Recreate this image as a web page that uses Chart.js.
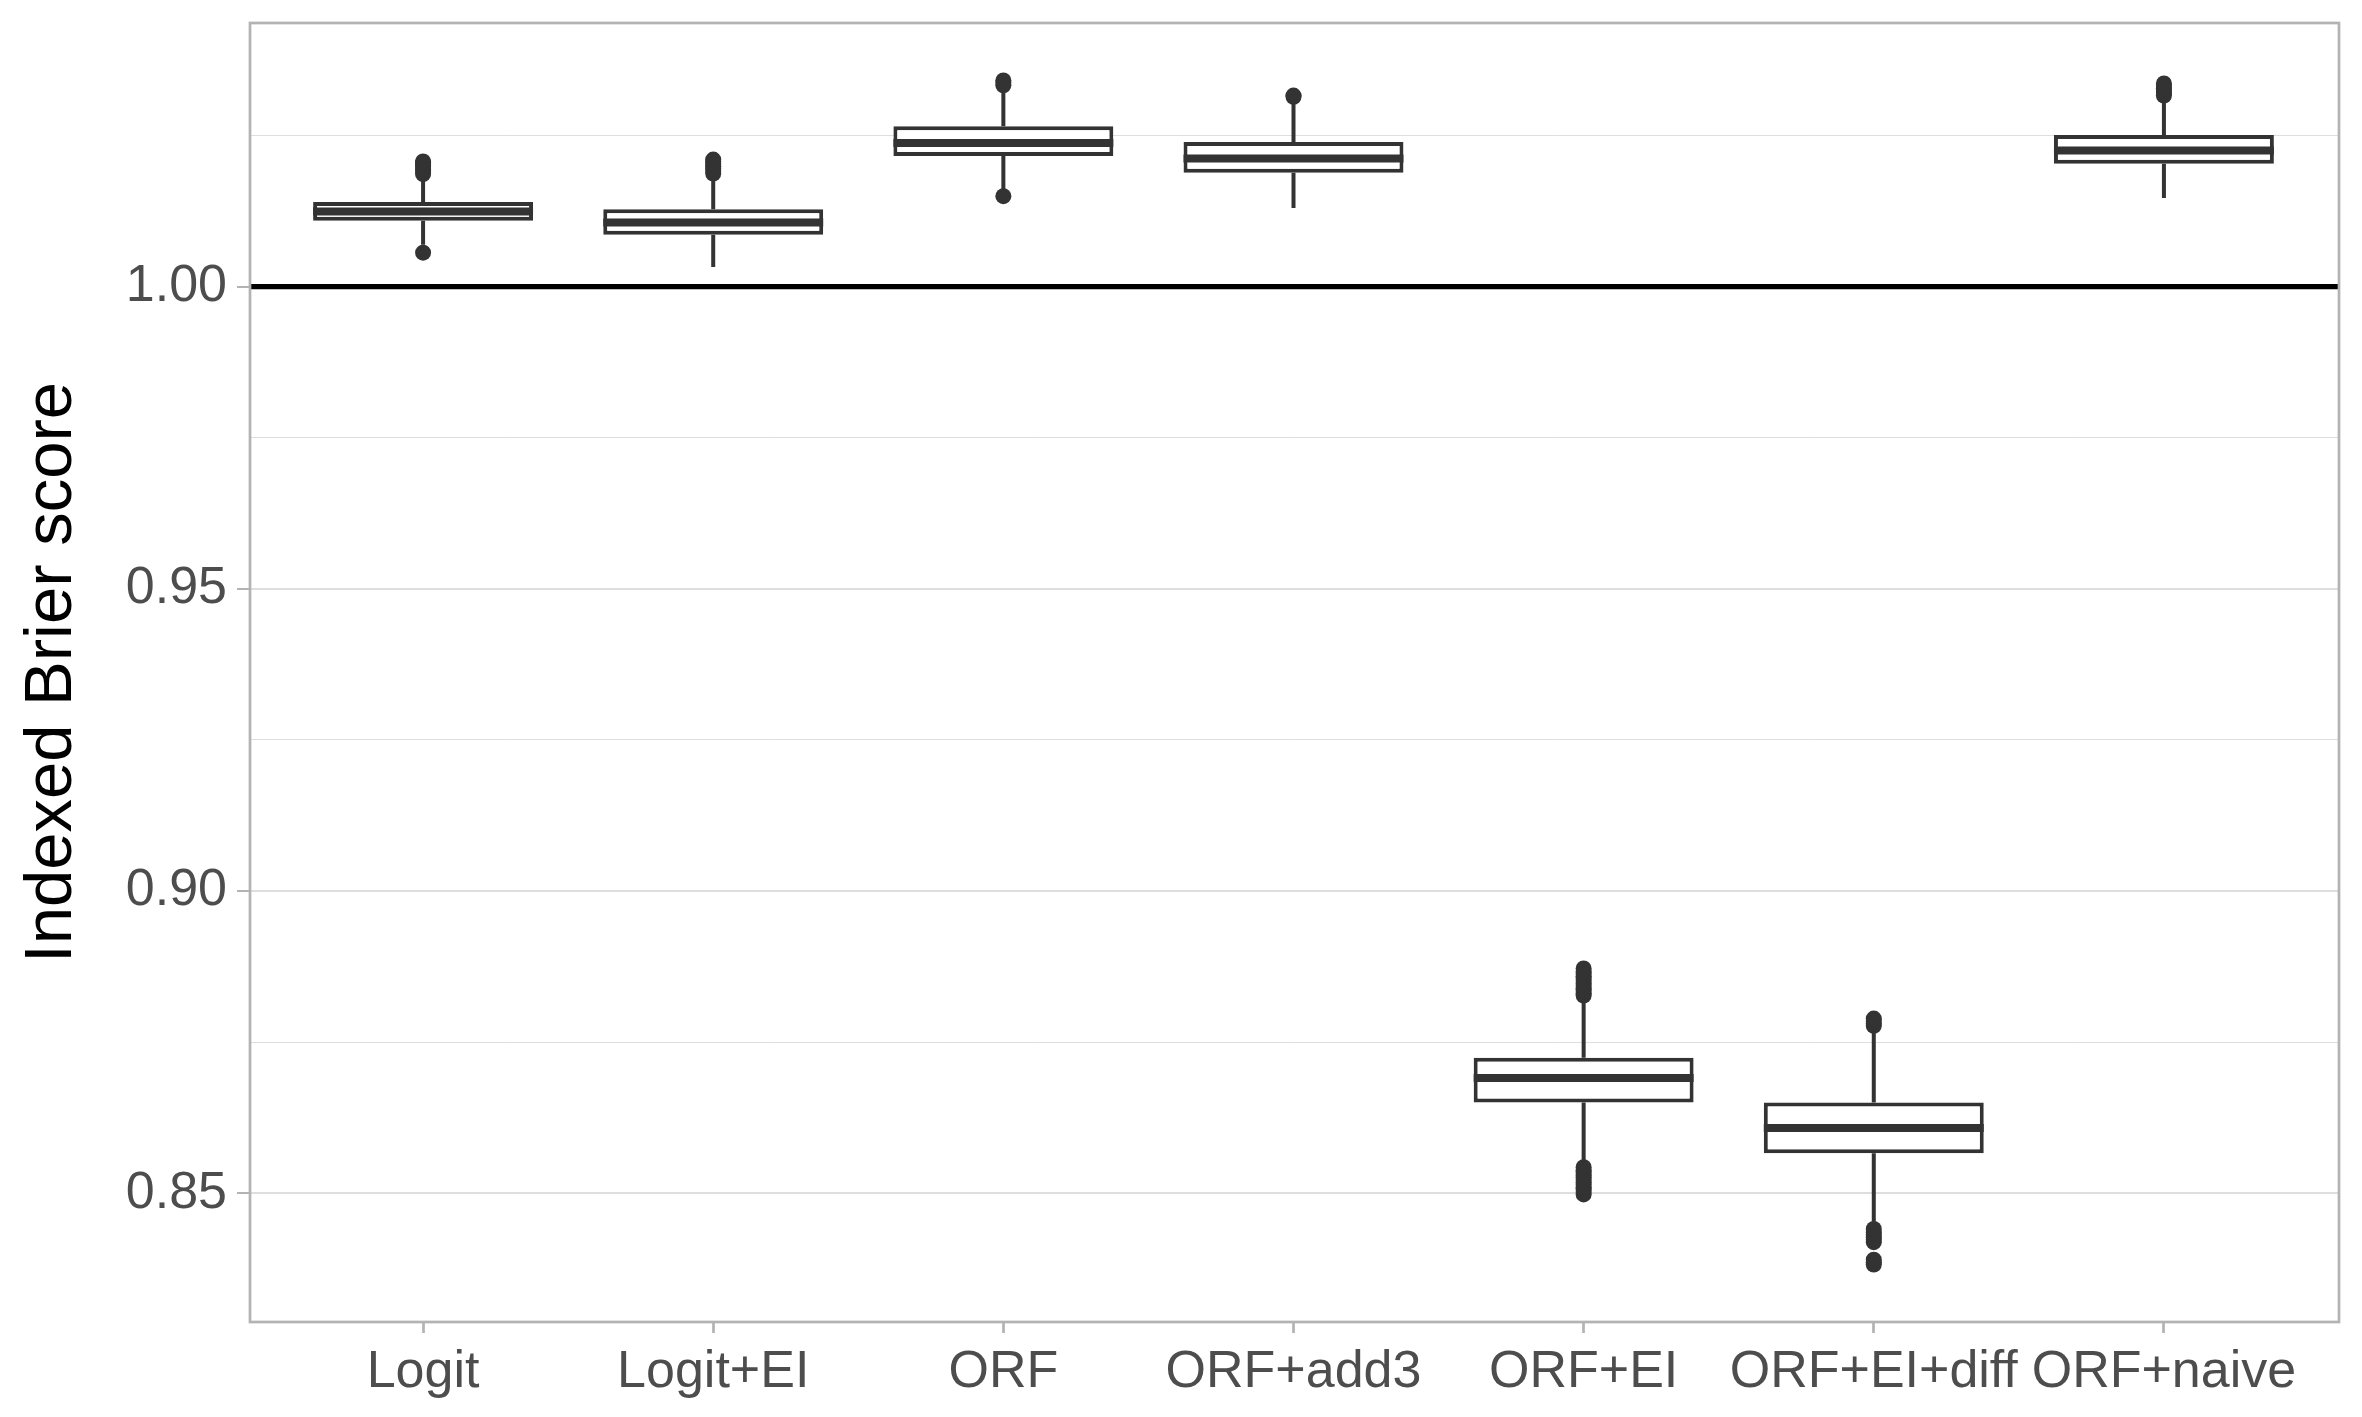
<!DOCTYPE html>
<html>
<head>
<meta charset="utf-8">
<style>
  html, body { margin: 0; padding: 0; background: #ffffff; }
  #wrap { width: 2362px; height: 1417px; }
  canvas { display: block; }
</style>
<script src="https://cdn.jsdelivr.net/npm/chart.js@4.4.0/dist/chart.umd.min.js"></script>
</head>
<body>
<div id="wrap"><canvas id="c" width="2362" height="1417"></canvas></div>
<script>
// ---- data ----
const categories = ['Logit', 'Logit+EI', 'ORF', 'ORF+add3', 'ORF+EI', 'ORF+EI+diff', 'ORF+naive'];
const whiskerLow  = [1.0069, 1.00324, 1.0161, 1.0130, 0.8552, 0.8453, 1.01465];
const q1          = [1.0109, 1.00857, 1.0216, 1.01884, 0.86502, 0.8566, 1.02033];
const medians     = [1.0124, 1.01061, 1.02374, 1.0212, 0.86906, 0.86079, 1.02252];
const q3          = [1.0140, 1.01278, 1.02651, 1.02392, 0.87242, 0.86502, 1.02506];
const whiskerHigh = [1.0180, 1.0182, 1.0325, 1.0309, 0.8820, 0.8767, 1.0307];
const outliersLogit    = [1.0056, 1.0186, 1.0190, 1.0194, 1.0198, 1.0202, 1.0205, 1.0207];
const outliersLogitEI  = [1.0187, 1.0191, 1.0195, 1.0199, 1.0203, 1.0207, 1.0210];
const outliersORF      = [1.01495, 1.0333, 1.0337, 1.0341];
const outliersORFadd3  = [1.0314, 1.0316];
const outliersORFEI    = [0.8498, 0.8502, 0.8506, 0.8510, 0.8514, 0.8518, 0.8522, 0.8526, 0.8530, 0.8534, 0.8538, 0.8543,
                          0.8827, 0.8831, 0.8835, 0.8839, 0.8843, 0.8847, 0.8851, 0.8855, 0.8859, 0.8863, 0.8867, 0.8872];
const outliersORFEIdiff = [0.8382, 0.8386, 0.8390, 0.8419, 0.8423, 0.8427, 0.8431, 0.8435, 0.8441,
                           0.8777, 0.8781, 0.8785, 0.8789];
const outliersORFnaive = [1.0316, 1.0320, 1.0324, 1.0328, 1.0332, 1.0336];
const outliers = [outliersLogit, outliersLogitEI, outliersORF, outliersORFadd3, outliersORFEI, outliersORFEIdiff, outliersORFnaive];
const referenceValue = 1.0;
const yTickValues = [0.85, 0.875, 0.90, 0.925, 0.95, 0.975, 1.00, 1.025];
const yTickLabels = ['0.85', '', '0.90', '', '0.95', '', '1.00', ''];
const yAxisTitle = 'Indexed Brier score';

// ---- derived datasets ----
const BOX_HALF = 0.379;
const idx = categories.map((_, i) => i);
const boxData = idx.map(i => ({ x: i, y: [q1[i], q3[i]] }));
const medianData = [];
idx.forEach(i => {
  medianData.push({ x: i - BOX_HALF, y: medians[i] });
  medianData.push({ x: i + BOX_HALF, y: medians[i] });
  medianData.push({ x: i, y: null });
});
const whiskerData = [];
idx.forEach(i => {
  whiskerData.push({ x: i, y: q3[i] });
  whiskerData.push({ x: i, y: whiskerHigh[i] });
  whiskerData.push({ x: i, y: null });
  whiskerData.push({ x: i, y: q1[i] });
  whiskerData.push({ x: i, y: whiskerLow[i] });
  whiskerData.push({ x: i, y: null });
});
const outlierData = [];
idx.forEach(i => outliers[i].forEach(v => outlierData.push({ x: i, y: v })));

const FONT = '"Liberation Sans", Arial, Helvetica, sans-serif';

const panelBorder = {
  id: 'panelBorder',
  afterDatasetsDraw(chart) {
    const { ctx, chartArea: a } = chart;
    ctx.save();
    ctx.strokeStyle = '#b3b3b3';
    ctx.lineWidth = 2.7;
    ctx.strokeRect(a.left + 1, a.top, a.right - a.left, a.bottom - a.top);
    ctx.restore();
  }
};

new Chart(document.getElementById('c'), {
  type: 'bar',
  data: {
    datasets: [
      {
        type: 'line', label: 'median', data: medianData, order: 0,
        borderColor: '#333333', borderWidth: 8, pointRadius: 0, spanGaps: false, borderCapStyle: 'butt'
      },
      {
        type: 'bar', label: 'box', data: boxData, order: 1,
        backgroundColor: '#ffffff', borderColor: '#333333', borderWidth: 4, borderSkipped: false,
        categoryPercentage: 1.0, barPercentage: 0.758
      },
      {
        type: 'line', label: 'whisker', data: whiskerData, order: 2,
        borderColor: '#333333', borderWidth: 4, pointRadius: 0, spanGaps: false
      },
      {
        type: 'scatter', label: 'outliers', data: outlierData, order: 3,
        backgroundColor: '#333333', borderWidth: 0, pointRadius: 8, pointHoverRadius: 8
      },
      {
        type: 'line', label: 'reference', order: 4,
        data: [{ x: -0.6, y: referenceValue }, { x: categories.length - 0.4, y: referenceValue }],
        borderColor: '#000000', borderWidth: 5.3, pointRadius: 0
      }
    ]
  },
  options: {
    responsive: false,
    animation: false,
    devicePixelRatio: 1,
    layout: { padding: { top: 23, right: 24, left: 0, bottom: 0 } },
    plugins: { legend: { display: false }, tooltip: { enabled: false } },
    scales: {
      x: {
        type: 'linear',
        min: -0.6,
        max: categories.length - 0.4,
        offset: false,
        afterBuildTicks: s => { s.ticks = idx.map(v => ({ value: v })); },
        afterFit: s => { s.height = 95; s.paddingLeft = 0; s.paddingRight = 0; },
        border: { display: false },
        grid: { offset: false, drawOnChartArea: false, drawTicks: true, tickLength: 11, tickColor: '#b3b3b3', tickWidth: 2.7 },
        ticks: {
          autoSkip: false, maxRotation: 0, minRotation: 0, padding: 8,
          color: '#4d4d4d', font: { family: FONT, size: 52 },
          callback: v => categories[v]
        }
      },
      y: {
        type: 'linear',
        min: 0.8287,
        max: 1.0436,
        afterBuildTicks: s => { s.ticks = yTickValues.map(v => ({ value: v })); },
        afterFit: s => { s.width = 249; s.paddingTop = 0; s.paddingBottom = 0; },
        border: { display: false },
        grid: {
          color: '#dedede',
          lineWidth: c => (c.index % 2 === 0 ? 2 : 1),
          drawTicks: true, tickLength: 12,
          tickColor: c => (c.index % 2 === 0 ? '#b3b3b3' : 'rgba(0,0,0,0)'),
          tickWidth: 2
        },
        ticks: {
          padding: 10, color: '#4d4d4d', font: { family: FONT, size: 52 },
          callback: (v, i) => yTickLabels[i]
        },
        title: {
          display: true, text: yAxisTitle, color: '#000000',
          font: { family: FONT, size: 67 }, padding: { top: 12, bottom: 0 }
        }
      }
    }
  },
  plugins: [panelBorder]
});
</script>
</body>
</html>
